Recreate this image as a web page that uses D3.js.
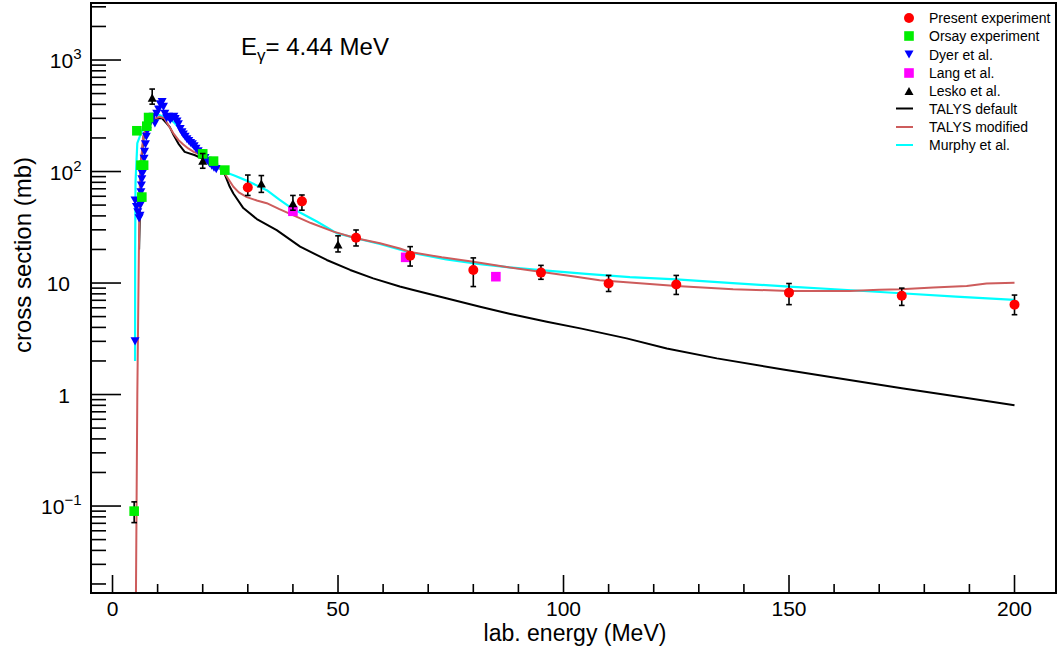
<!DOCTYPE html>
<html><head><meta charset="utf-8">
<script src="https://cdn.jsdelivr.net/npm/d3@7"></script>
<style>body{margin:0;background:#fff}svg{display:block}</style>
</head><body><svg id="c" width="1058" height="653"></svg>
<script>
// ---------------- data ----------------
const presentE  = [30, 42, 54, 66, 80, 95, 110, 125, 150, 175, 200];
const presentS  = [72, 54, 25.5, 17.6, 13.1, 12.4, 9.9, 9.7, 8.2, 7.7, 6.4];
const presentLo = [61, 45, 21.5, 14.2, 9.3, 10.8, 8.4, 7.9, 6.4, 6.3, 5.2];
const presentHi = [93, 61.6, 29.9, 21.2, 16.8, 14.4, 11.7, 11.7, 9.9, 9.0, 7.8];

const orsayE  = [4.8, 5.4, 6.3, 6.9, 6.5, 7.6, 8.0, 20, 22.4, 24.9];
const orsayS  = [0.09, 232, 114, 114, 59, 255, 305, 144, 124, 103];
const orsayLo = [0.071, null, null, null, null, null, null, null, null, null];
const orsayHi = [0.109, null, null, null, null, null, null, null, null, null];

const dyerE = [5.0, 5.0, 5.3, 5.6, 5.9, 6.1, 6.2, 6.3, 6.4, 6.5, 6.6, 6.8, 7.0, 7.1, 7.3, 7.5, 7.7, 8.0, 8.5,
  9.0, 9.4, 9.8, 10.2, 10.6, 11.0, 11.3, 11.6, 12.0, 12.4, 12.8, 13.2, 13.6, 13.9, 14.3, 14.6, 15.0, 15.4,
  15.7, 16.1, 16.5, 16.9, 17.3, 17.7, 18.1, 18.5, 19.0, 19.5, 20.0, 20.5, 21.0, 21.5, 22.0, 22.5, 23.0];
const dyerS = [3.0, 55, 48, 43, 38, 40, 50, 65, 75, 85, 95, 110, 130, 150, 175, 205, 230, 260, 280,
  310, 270, 330, 360, 400, 420, 380, 330, 300, 310, 290, 300, 310, 295, 280, 265, 240, 225,
  215, 205, 195, 188, 180, 175, 168, 160, 152, 145, 140, 132, 125, 118, 113, 108, 105];

const langE = [40, 65, 85];
const langS = [44, 17, 11.4];

const leskoE  = [8.8, 20, 33, 40, 50];
const leskoS  = [460, 125, 78, 52, 22.2];
const leskoLo = [402, 107, 65, 45, 19];
const leskoHi = [549, 145, 92, 61, 26.5];

const talysDefE = [5.9, 6.3, 7.0, 8.0, 9.0, 10.0, 11.0, 12.0, 12.7, 13.6, 14.6, 16.0, 18.3, 20.0, 23.1, 24.6,
  25.0, 26.0, 26.8, 29.0, 32.0, 36.4, 41.6, 47.5, 52.7, 57.8, 63.7, 66.7, 74, 81.5, 88, 96.3, 104, 114,
  122.9, 134, 148.7, 162, 175, 188, 200];
const talysDefS = [20, 120, 220, 270, 290, 300, 300, 270, 250, 210, 178, 150, 140, 130, 110, 101,
  92, 73, 63.5, 47, 37.5, 29.8, 21.2, 16.1, 13.1, 11.0, 9.3, 8.65, 7.3, 6.12, 5.3, 4.49, 3.9, 3.19,
  2.59, 2.11, 1.68, 1.38, 1.14, 0.95, 0.80];

const talysModE = [5.2, 5.5, 5.85, 6.1, 6.8, 7.5, 8.5, 9.5, 10.5, 11.5, 12.4, 13.5, 14.6, 15.7, 16.8, 18, 19.8,
  21.5, 23.1, 24.6, 25.5, 26.8, 28, 29.8, 32, 34.2, 37, 40, 44, 49, 54, 59.3, 63.7, 66, 73, 80, 87,
  94.8, 102, 108, 114.7, 125, 137.6, 150, 163.5, 170, 174.8, 182, 189.4, 193.8, 200];
const talysModS = [0.0166, 1, 20, 96, 206, 250, 280, 300, 310, 300, 260, 220, 192, 175, 161, 150, 140,
  125, 115, 100, 88, 73, 65, 59, 55, 52, 46, 40.7, 34.5, 28.9, 25.2, 22.7, 20.4, 19.0, 17, 15.5, 14,
  12.6, 11.5, 10.6, 10.1, 9.4, 8.8, 8.5, 8.5, 8.7, 8.8, 9.1, 9.4, 9.9, 10.05];

const murphyE = [5.0, 5.02, 5.1, 5.3, 5.5, 6.5, 7.5, 8.5, 9.5, 10.5, 12, 13.5, 15, 16.5, 18, 20, 22, 24.6,
  27, 30, 34.2, 37, 39.7, 42.5, 45.3, 49.7, 54.9, 59.3, 66, 74, 81.5, 88, 96.3, 105, 114.7, 125, 137.5,
  150, 162, 174.8, 187, 200];
const murphyS = [2.0, 20, 80, 120, 180, 230, 290, 320, 330, 320, 300, 280, 240, 205, 175, 145, 120, 100,
  92, 82, 68, 56, 47, 41, 35.6, 28, 24.7, 22.4, 18.8, 16.3, 14.8, 13.8, 12.9, 12.1, 11.3, 10.8, 10.0,
  9.28, 8.7, 8.1, 7.55, 7.05];

const xMajorTicks = [0, 50, 100, 150, 200];
const yMajorTicks = [0.1, 1, 10, 100, 1000];
const yTickLabels = [["10", "\u22121"], ["1", null], ["10", null], ["10", "2"], ["10", "3"]];
const legendLabels = ["Present experiment", "Orsay experiment", "Dyer et al.", "Lang et al.", "Lesko et al.",
  "TALYS default", "TALYS modified", "Murphy et al."];

// ---------------- layout ----------------
const L = 91, R = 1056, T = 3, B = 593;
const FONT = "'Liberation Sans', Arial, Helvetica, sans-serif";
const svg = d3.select("#c");
const x = d3.scaleLinear().domain([-4.77, 209.2]).range([L, R]);
const y = d3.scaleLog().domain([0.0166, 3246]).range([B, T]);

const COL = {red: "#ff0000", green: "#00ee00", blue: "#0000ff", mag: "#ff00ff", black: "#000000",
  tdef: "#000000", tmod: "#cd5c5c", murphy: "#00ffff"};

const defs = svg.append("defs");
defs.append("clipPath").attr("id", "clip").append("rect")
  .attr("x", L).attr("y", T).attr("width", R - L).attr("height", B - T);
const plot = svg.append("g").attr("clip-path", "url(#clip)");

// lines
const zip = (a, b) => a.map((v, i) => [v, b[i]]);
const line = d3.line().x(d => x(d[0])).y(d => y(d[1]));
function drawLine(E, S, color, w) {
  plot.append("path").datum(zip(E, S)).attr("d", line)
    .attr("fill", "none").attr("stroke", color).attr("stroke-width", w).attr("stroke-linejoin", "round");
}
drawLine(talysDefE, talysDefS, COL.tdef, 2);
drawLine(murphyE, murphyS, COL.murphy, 2.2);
drawLine(talysModE, talysModS, COL.tmod, 2);

// markers
function tri(cx, cy, s, down) {
  const h = s * 0.9;
  if (down) return `M${cx - s / 2},${cy - h / 2}L${cx + s / 2},${cy - h / 2}L${cx},${cy + h / 2}Z`;
  return `M${cx - s / 2},${cy + h / 2}L${cx + s / 2},${cy + h / 2}L${cx},${cy - h / 2}Z`;
}
function marker(g, type, cx, cy, color) {
  if (type === "circle") g.append("circle").attr("cx", cx).attr("cy", cy).attr("r", 5).attr("fill", color);
  else if (type === "square") g.append("rect").attr("x", cx - 4.8).attr("y", cy - 4.8).attr("width", 9.6).attr("height", 9.6).attr("fill", color);
  else if (type === "tdown") g.append("path").attr("d", tri(cx, cy, 9, true)).attr("fill", color);
  else if (type === "tup") g.append("path").attr("d", tri(cx, cy, 9, false)).attr("fill", color);
}
function errBar(g, E, lo, hi) {
  const cx = x(E), y1 = y(lo), y2 = y(hi);
  g.append("line").attr("x1", cx).attr("x2", cx).attr("y1", y1).attr("y2", y2).attr("stroke", "#000").attr("stroke-width", 1.6);
  [y1, y2].forEach(yy => g.append("line").attr("x1", cx - 2.8).attr("x2", cx + 2.8).attr("y1", yy).attr("y2", yy)
    .attr("stroke", "#000").attr("stroke-width", 1.6));
}
const mg = plot.append("g");
dyerE.forEach((e, i) => marker(mg, "tdown", x(e), y(dyerS[i]), COL.blue));
orsayE.forEach((e, i) => { if (orsayLo[i] != null) errBar(mg, e, orsayLo[i], orsayHi[i]); marker(mg, "square", x(e), y(orsayS[i]), COL.green); });
langE.forEach((e, i) => marker(mg, "square", x(e), y(langS[i]), COL.mag));
leskoE.forEach((e, i) => { errBar(mg, e, leskoLo[i], leskoHi[i]); marker(mg, "tup", x(e), y(leskoS[i]), COL.black); });
presentE.forEach((e, i) => { errBar(mg, e, presentLo[i], presentHi[i]); marker(mg, "circle", x(e), y(presentS[i]), COL.red); });

// frame
svg.append("rect").attr("x", L).attr("y", T).attr("width", R - L).attr("height", B - T)
  .attr("fill", "none").attr("stroke", "#000").attr("stroke-width", 2);

// x ticks
const ax = svg.append("g").attr("stroke", "#000").attr("stroke-width", 1.6);
for (let v = 0; v <= 209; v += 10) {
  const major = xMajorTicks.includes(v);
  ax.append("line").attr("x1", x(v)).attr("x2", x(v)).attr("y1", B).attr("y2", B - (major ? 18 : 9));
}
xMajorTicks.forEach(v => svg.append("text").attr("x", x(v)).attr("y", 616).attr("text-anchor", "middle")
  .attr("font-family", FONT).attr("font-size", 21).text(v));

// y ticks
for (let d = -2; d <= 3; d++) {
  for (let m = 1; m <= 9; m++) {
    const v = m * Math.pow(10, d);
    if (v < 0.0166 || v > 3246) continue;
    ax.append("line").attr("x1", L).attr("x2", L + (m === 1 ? 30 : 15)).attr("y1", y(v)).attr("y2", y(v));
  }
}
yMajorTicks.forEach((v, i) => {
  const [base, exp] = yTickLabels[i];
  const t = svg.append("text").attr("y", y(v) + 8).attr("font-family", FONT).attr("font-size", 21).attr("text-anchor", "end");
  if (exp) {
    t.attr("x", 81.5);
    t.append("tspan").text(base);
    t.append("tspan").attr("dy", -9).attr("font-size", 15).text(exp);
  } else {
    t.attr("x", 70).text(base);
  }
});

// axis titles
svg.append("text").attr("x", 575).attr("y", 641).attr("text-anchor", "middle")
  .attr("font-family", FONT).attr("font-size", 23).text("lab. energy (MeV)");
svg.append("text").attr("transform", "translate(31,255) rotate(-90)").attr("text-anchor", "middle")
  .attr("font-family", FONT).attr("font-size", 24).text("cross section (mb)");

// title
const tt = svg.append("text").attr("x", 241).attr("y", 55).attr("font-family", FONT).attr("font-size", 24);
tt.append("tspan").text("E");
tt.append("tspan").attr("dy", 6).attr("font-size", 17).text("\u03b3");
tt.append("tspan").attr("dy", -6).text("= 4.44 MeV");

// legend
const lg = svg.append("g");
const legY = [18, 36, 54.5, 73, 91, 108.5, 127, 145];
const legSpec = [["circle", COL.red], ["square", COL.green], ["tdown", COL.blue], ["square", COL.mag], ["tup", COL.black],
  ["line", COL.tdef], ["line", COL.tmod], ["line", COL.murphy]];
legendLabels.forEach((lab, i) => {
  const [type, col] = legSpec[i];
  const cy = legY[i];
  if (type === "line") lg.append("line").attr("x1", 896).attr("x2", 913).attr("y1", cy).attr("y2", cy).attr("stroke", col).attr("stroke-width", 2);
  else marker(lg, type, 909, cy, col);
  lg.append("text").attr("x", 929).attr("y", cy + 5).attr("font-family", FONT).attr("font-size", 14).text(lab);
});
</script></body></html>
